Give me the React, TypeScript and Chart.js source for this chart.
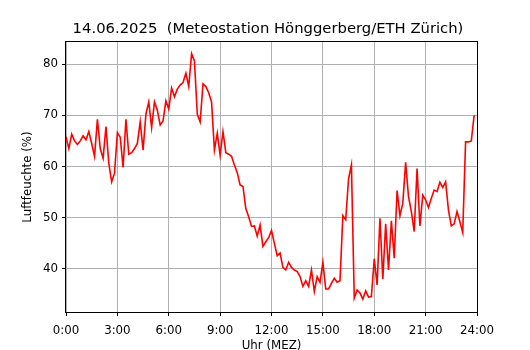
import React, { useEffect, useRef } from 'react';
import { Chart, registerables } from 'chart.js';

Chart.register(...registerables);

const TITLE = '14.06.2025  (Meteostation Hönggerberg/ETH Zürich)';
const X_LABEL = 'Uhr (MEZ)';
const Y_LABEL = 'Luftfeuchte (%)';
const INTERVAL_MINUTES = 10;

// relative humidity (%), one value every 10 minutes from 0:00
const humidity = [
  65.8, 63.5, 66.3, 65.0, 64.3, 65.0, 66.0, 65.2, 66.8, 64.5,
  62.0, 69.2, 63.5, 61.6, 67.8, 60.6, 57.0, 58.7, 66.6, 65.7,
  59.8, 69.2, 62.4, 62.7, 63.5, 64.5, 68.7, 63.2, 70.2, 72.6,
  67.6, 72.6, 71.0, 68.1, 68.9, 72.8, 71.2, 75.3, 73.6, 75.1,
  75.9, 76.4, 78.2, 75.6, 82.0, 80.6, 70.2, 68.7, 76.1, 75.6,
  74.4, 72.6, 63.2, 66.5, 62.2, 66.8, 62.7, 62.4, 62.0, 60.3,
  58.8, 56.4, 56.1, 51.8, 50.2, 48.3, 48.4, 46.4, 48.6, 44.4,
  45.3, 46.1, 47.5, 45.0, 42.6, 43.1, 40.3, 39.8, 41.3, 40.3,
  39.8, 39.5, 38.5, 36.6, 37.7, 36.6, 39.8, 35.6, 38.5, 37.4,
  41.3, 36.1, 36.1, 37.2, 38.2, 37.4, 37.7, 50.4, 49.6, 57.6,
  60.3, 34.3, 35.9, 35.3, 34.1, 35.7, 34.5, 34.6, 42.0, 36.9,
  49.9, 38.0, 48.8, 39.8, 49.4, 42.1, 55.3, 50.4, 52.8, 60.8,
  54.1, 51.2, 47.3, 59.6, 48.4, 54.4, 53.5, 52.0, 53.8, 55.4,
  55.1, 56.9, 55.9, 57.0, 51.5, 48.4, 48.8, 51.2, 49.2, 47.1,
  64.8, 64.8, 65.0, 70.0,
];

const xTicks = [0, 3, 6, 9, 12, 15, 18, 21, 24];
const yTicks = [40, 50, 60, 70, 80];
const X_MIN = 0;
const X_MAX = 24;
const Y_MIN = 31.6;
const Y_MAX = 84.3;

const FONT = 'DejaVu Sans';

const framePlugin = {
  id: 'frame',
  afterDatasetsDraw(chart: any) {
    const { ctx, chartArea } = chart;
    const { left, top, right, bottom } = chartArea;
    ctx.save();
    ctx.strokeStyle = '#000';
    ctx.lineWidth = 1;
    ctx.strokeRect(Math.round(left) - 0.5, Math.round(top) - 0.5, Math.round(right - left) + 1, Math.round(bottom - top) + 1);
    ctx.restore();
  },
};

export default function App() {
  const ref = useRef<HTMLCanvasElement | null>(null);

  useEffect(() => {
    document.body.style.margin = '0';
    if (!ref.current) return;
    const points = humidity.map((v, i) => ({ x: (i * INTERVAL_MINUTES) / 60, y: v }));
    const chart = new Chart(ref.current, {
      type: 'line',
      data: {
        datasets: [
          {
            data: points,
            borderColor: '#ff0000',
            borderWidth: 1.6,
            pointRadius: 0,
            tension: 0,
            fill: false,
          },
        ],
      },
      plugins: [framePlugin],
      options: {
        animation: false,
        responsive: false,
        maintainAspectRatio: false,
        devicePixelRatio: 1,
        layout: { padding: { left: 6, right: 0, top: 0, bottom: 0 } },
        plugins: {
          legend: { display: false },
          tooltip: { enabled: false },
          title: {
            display: true,
            text: TITLE,
            color: '#000',
            font: { family: FONT, size: 14.8, weight: 'normal' },
            padding: { top: 20, bottom: 4.24 },
          },
        },
        scales: {
          x: {
            type: 'linear',
            min: X_MIN,
            max: X_MAX,
            afterBuildTicks: (scale: any) => {
              scale.ticks = xTicks.map((v) => ({ value: v }));
            },
            afterFit: (scale: any) => {
              scale.height = 38;
            },
            ticks: {
              color: '#000',
              font: { family: FONT, size: 11.8 },
              padding: 8,
              maxRotation: 0,
              autoSkip: false,
              callback: (v: any) => `${v}:00`,
            },
            grid: { color: '#b0b0b0', lineWidth: 1, tickColor: '#000', tickLength: 4, drawTicks: true },
            border: { display: false },
            title: {
              display: true,
              text: X_LABEL,
              color: '#000',
              font: { family: FONT, size: 11.8 },
              padding: { top: 0, bottom: -3 },
            },
          },
          y: {
            type: 'linear',
            position: 'left',
            min: Y_MIN,
            max: Y_MAX,
            afterBuildTicks: (scale: any) => {
              scale.ticks = yTicks.map((v) => ({ value: v }));
            },
            afterFit: (scale: any) => {
              scale.width = 60;
            },
            ticks: {
              color: '#000',
              font: { family: FONT, size: 11.8 },
              padding: 4,
              autoSkip: false,
            },
            grid: { color: '#b0b0b0', lineWidth: 1, tickColor: '#000', tickLength: 4, drawTicks: true },
            border: { display: false },
            title: {
              display: true,
              text: Y_LABEL,
              color: '#000',
              font: { family: FONT, size: 11.8 },
              padding: { top: 15, bottom: 0 },
            },
          },
          yRightSpace: {
            type: 'linear',
            position: 'right',
            display: true,
            min: Y_MIN,
            max: Y_MAX,
            afterFit: (scale: any) => {
              scale.width = 53;
            },
            ticks: { display: false },
            grid: { display: false, drawTicks: false },
            border: { display: false },
          },
        },
      },
    } as any);
    return () => chart.destroy();
  }, []);

  return (
    <div style={{ width: 530, height: 350, background: '#fff' }}>
      <canvas ref={ref} width={530} height={350} style={{ width: 530, height: 350, display: 'block' }} />
    </div>
  );
}
